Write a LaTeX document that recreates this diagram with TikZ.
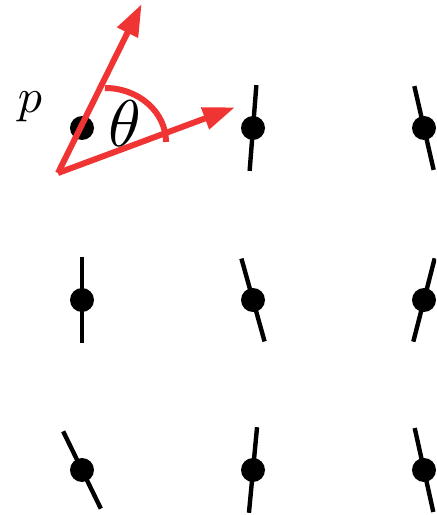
\documentclass[tikz,border=0pt]{standalone}
\usepackage{amsmath}
\usepackage{tikz}
\usepackage{xcolor}
\usetikzlibrary{arrows.meta}
\definecolor{vecred}{RGB}{240,52,52}
\tikzset{
  dipole/.style={
    circle, fill=black, inner sep=0pt,
    minimum size=12pt
  },
  stick/.style={draw, line width=2.2pt},
  vecarrow/.style={draw=vecred, line width=3pt,
    -{Triangle[length=16pt, width=11pt]}},
}

\begin{document}
\begin{tikzpicture}[x=0.5pt, y=0.5pt]
  \useasboundingbox (0,0) rectangle (436,515);
  \clip (0,0) rectangle (436,515);

  % dipole lattice: column/row/angle of the stick
  \node[dipole] (d0) at (82,387) {};
  \foreach \c/\r/\a [count=\i] in {
      253/387/85.5, 424/387/103,
      82/215/90,    253/215/105.6, 424/215/75.6,
      82/45/116,    253/45/84.6,   424/45/102.5}
  {
    \node[dipole] (d\i) at (\c,\r) {};
    \draw[stick] (d\i.center) ++(\a:43) -- ++(\a+180:86);
  }

  % orientation vectors
  \coordinate (o)    at (58,342);
  \coordinate (tipA) at (141.7,511);
  \coordinate (tipB) at (235,407.7);
  \draw[vecarrow] (o) -- (tipA);
  \draw[vecarrow] (o) -- (tipB);
  \draw[vecred, line width=3pt]
    (105,427) arc[start angle=90, end angle=0, x radius=61, y radius=54];

  \node[scale=2.4] (plabel) at (30,408) {$p$};
  \node[scale=3.3] (theta)  at (125,391) {$\theta$};
\end{tikzpicture}
\end{document}
